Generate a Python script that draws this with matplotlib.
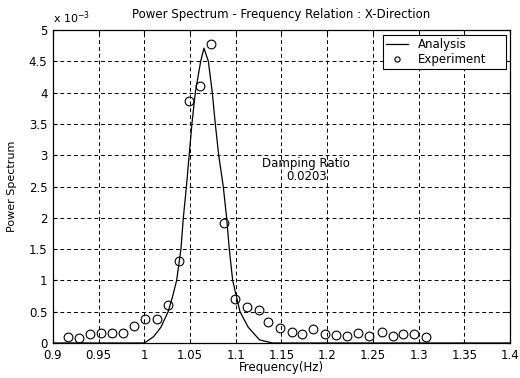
import matplotlib.pyplot as plt
from matplotlib.ticker import FormatStrFormatter, MultipleLocator

plt.rcParams['font.family'] = ['DejaVu Sans']

# Analysis spectrum (power in units of 1e-3)
freq_analysis = [0.90, 1.000, 1.010, 1.018, 1.026, 1.031, 1.0353, 1.040, 1.0426,
                 1.046, 1.049, 1.052, 1.0557, 1.0616, 1.0652, 1.070, 1.0743,
                 1.0776, 1.0813, 1.0863, 1.090, 1.0929, 1.0966, 1.1046, 1.1137,
                 1.126, 1.14, 1.40]
power_analysis = [0.0, 0.0, 0.10, 0.25, 0.50, 0.75, 1.00, 1.50, 2.00,
                  2.50, 3.00, 3.50, 4.00, 4.50, 4.71, 4.50, 4.00,
                  3.50, 3.00, 2.50, 2.00, 1.50, 1.00, 0.50, 0.25,
                  0.05, 0.0, 0.0]

# Measured spectrum
freq_exp = [0.916, 0.928, 0.940, 0.9525, 0.9645, 0.977, 0.989, 1.001, 1.0135,
            1.0255, 1.038, 1.049, 1.061, 1.073, 1.087, 1.0995, 1.112, 1.125,
            1.1355, 1.148, 1.161, 1.173, 1.185, 1.198, 1.210, 1.222, 1.234,
            1.246, 1.260, 1.272, 1.283, 1.295, 1.308]
power_exp = [0.10, 0.085, 0.14, 0.165, 0.165, 0.165, 0.27, 0.38, 0.38,
             0.60, 1.31, 3.87, 4.11, 4.78, 1.92, 0.71, 0.58, 0.53,
             0.335, 0.235, 0.18, 0.14, 0.22, 0.14, 0.13, 0.11, 0.155,
             0.11, 0.18, 0.11, 0.14, 0.14, 0.09]

damping_ratio = 0.0203

fig = plt.figure(figsize=(5.2, 3.78), dpi=100)
ax = fig.add_axes([0.1019, 0.0926, 0.8788, 0.828])

ax.plot(freq_analysis, power_analysis, color='black', lw=0.9, label='Analysis')
ax.plot(freq_exp, power_exp, 'o', mfc='none', mec='black', ms=6.3, mew=0.8,
        label='Experiment')

ax.set_xlim(0.9, 1.4)
ax.set_ylim(0, 5)
ax.xaxis.set_major_locator(MultipleLocator(0.05))
ax.yaxis.set_major_locator(MultipleLocator(0.5))
ax.xaxis.set_major_formatter(FormatStrFormatter('%g'))
ax.yaxis.set_major_formatter(FormatStrFormatter('%g'))
ax.tick_params(direction='in', length=3, width=0.8, labelsize=8.5,
               top=True, right=True)
ax.tick_params(axis='x', pad=4)
ax.tick_params(axis='y', pad=4)
ax.grid(True, color='black', linestyle=(0, (4, 3)), linewidth=0.7)
for sp in ax.spines.values():
    sp.set_linewidth(0.9)

ax.set_title('Power Spectrum - Frequency Relation : X-Direction', fontsize=8.5, pad=9)
ax.set_xlabel('Frequency(Hz)', fontsize=8.5)
ax.set_ylabel('Power Spectrum', fontsize=8)
ax.xaxis.set_label_coords(0.5, -0.058)
ax.yaxis.set_label_coords(-0.078, 0.5)
ax.text(0.0, 1.012, r'x 10$^{-3}$', transform=ax.transAxes, fontsize=8,
        ha='left', va='bottom')

ax.text(1.177, 2.87, 'Damping Ratio', fontsize=8.5, ha='center', va='center')
ax.text(1.177, 2.66, f'{damping_ratio:.4f}', fontsize=8.5, ha='center', va='center')

leg = ax.legend(loc='upper left', bbox_to_anchor=(0.722, 0.882, 0.269, 0.102),
                mode='expand', borderaxespad=0, fontsize=8.5, fancybox=False,
                framealpha=1, edgecolor='black', handlelength=1.9,
                handletextpad=0.85, borderpad=0.25, labelspacing=0.15,
                markerscale=0.6)
leg.get_frame().set_linewidth(0.8)

fig.savefig('out.png', dpi=100)
